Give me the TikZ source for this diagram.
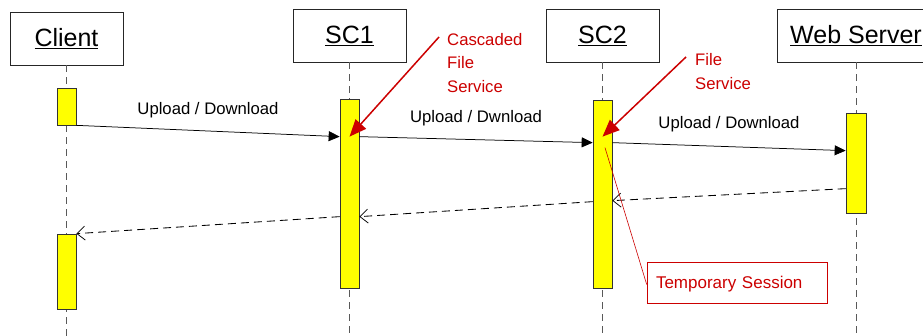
\documentclass[tikz,border=0pt]{standalone}
\usepackage{fontspec}
\setmainfont{Liberation Sans}
\usetikzlibrary{arrows.meta}
\definecolor{annot}{HTML}{CC0000}
\definecolor{actfill}{HTML}{FFFF00}
\tikzset{
  objbox/.style={draw=black!85, line width=0.7pt, fill=white, minimum width=113pt, minimum height=53pt, inner sep=0pt, font=\fontsize{25}{30}\selectfont},
  actbar/.style={draw=black!80, line width=0.7pt, fill=actfill, minimum width=19pt, inner sep=0pt},
  lifeline/.style={draw=black!65, line width=0.8pt, dash pattern=on 7pt off 5pt},
  callmsg/.style={draw=black, line width=0.75pt, -{Triangle[length=11pt,width=10pt]}},
  retmsg/.style={draw=black, line width=0.85pt, dash pattern=on 8pt off 5pt, -{Straight Barb[length=8pt,width=14pt,line width=0.75pt]}},
  msglabel/.style={font=\fontsize{16.7}{20}\selectfont, text=black},
  annottext/.style={font=\fontsize{16.7}{23.5}\selectfont, text=annot, align=left, inner sep=0pt},
  annotarrow/.style={draw=annot, line width=1.5pt, -{Triangle[length=17pt,width=14pt]}},
  notebox/.style={draw=annot, line width=0.6pt, minimum width=180pt, minimum height=41pt, inner xsep=9pt, inner ysep=0pt, text=annot, font=\fontsize{17}{20}\selectfont},
}
\begin{document}
\begin{tikzpicture}[x=1pt, y=-1pt]
\useasboundingbox (0,0) rectangle (923,336);
\clip (0,0) rectangle (923,336);
\fill[white] (0,0) rectangle (923,336);

% object boxes
\node[objbox] (client) at (66.5,38.5) {\underline{Client}};
\node[objbox] (sc1) at (349.5,35.5) {\underline{SC1}};
\node[objbox] (sc2) at (602.5,35.5) {\underline{SC2}};
\node[objbox, minimum width=158pt] (web) at (856,35.5) {\underline{Web Server}};

% lifeline ends
\coordinate (clientend) at (66.5,336);
\coordinate (sc1end) at (349.5,336);
\coordinate (sc2end) at (602.5,336);
\coordinate (webend) at (856,336);
\draw[lifeline] (client.south) -- (clientend);
\draw[lifeline] (sc1.south) -- (sc1end);
\draw[lifeline] (sc2.south) -- (sc2end);
\draw[lifeline] (web.south) -- (webend);

% activation bars
\node[actbar, minimum height=37pt] (ca) at (66.5,106.5) {};
\node[actbar, minimum height=75pt] (cb) at (66.5,271.5) {};
\node[actbar, minimum height=189pt] (s1) at (349.5,193.5) {};
\node[actbar, minimum height=188pt] (s2) at (602.5,194) {};
\node[actbar, minimum height=100pt, minimum width=20pt] (w) at (856,163) {};

% calls
\draw[callmsg] (ca.south east) -- ([yshift=-38pt]s1.north west)
  node[midway, yshift=21pt, msglabel] (l1) {Upload / Download};
\draw[callmsg] ([yshift=-38pt]s1.north east) -- ([yshift=-43pt]s2.north west)
  node[midway, yshift=21pt, msglabel] (l2) {Upload / Dwnload};
\draw[callmsg] ([yshift=-43pt]s2.north east) -- ([yshift=-38pt]w.north west)
  node[midway, yshift=22pt, msglabel] (l3) {Upload / Download};

% returns
\draw[retmsg] ([yshift=-76pt]w.north west) -- ([yshift=-101pt]s2.north east);
\draw[retmsg] ([yshift=-102pt]s2.north west) -- ([yshift=-118pt]s1.north east);
\draw[retmsg] ([yshift=-118pt]s1.north west) -- (cb.north east);

% annotations
\node[annottext, anchor=west] (cfs) at (447,63) {Cascaded\\File\\Service};
\node[annottext, anchor=west] (fs) at (695,71.5) {File\\Service};
\coordinate (cfsstart) at (439,37);
\coordinate (fsstart) at (686,57);
\draw[annotarrow] (cfsstart) -- ([yshift=-38pt]s1.north);
\draw[annotarrow] (fsstart) -- ([yshift=-37pt]s2.north);

\node[notebox, text width=162pt, align=left] (ts) at (737,282.5) {\raisebox{-6pt}[0pt][0pt]{Temporary Session}};
\draw[draw=annot, line width=0.6pt] ([xshift=2.5pt,yshift=-48pt]s2.north) -- ([yshift=-2pt]ts.west);
\end{tikzpicture}
\end{document}
